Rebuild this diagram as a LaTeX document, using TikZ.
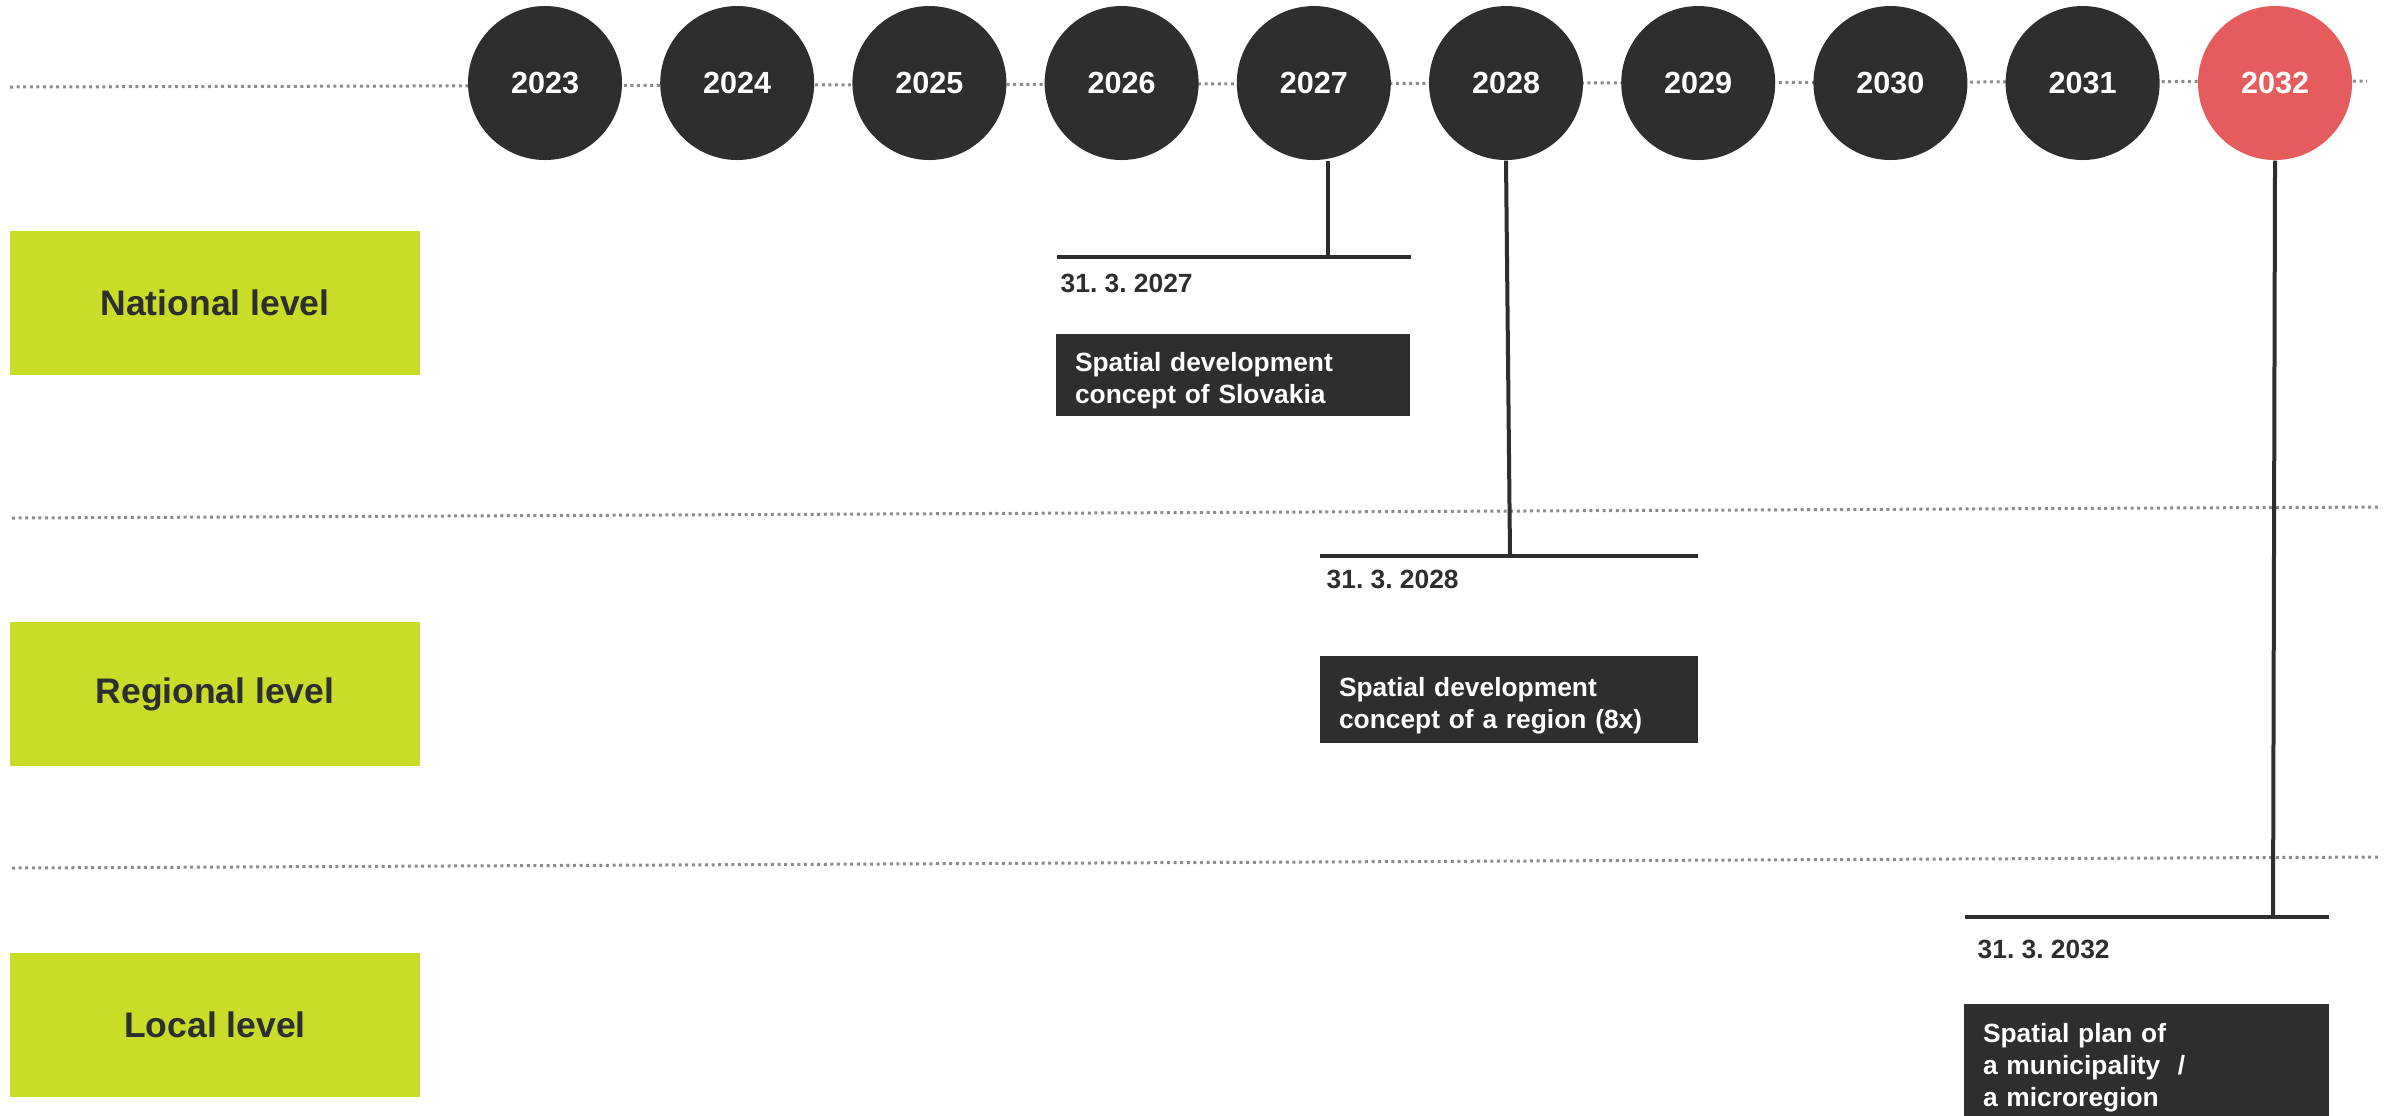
\documentclass[tikz,border=0pt]{standalone}
\usepackage{fontspec}
\setmainfont{Liberation Sans}
\usepackage{tikz}
\usetikzlibrary{positioning}
\definecolor{ink}{HTML}{2E2E2E}
\definecolor{lime}{HTML}{C8DC28}
\definecolor{coral}{HTML}{E55C5C}
\definecolor{dotgray}{HTML}{8C8C8C}
\frenchspacing

\begin{document}
\begin{tikzpicture}  [
        x = 0.1mm, y = -0.1mm,
        yearball/.style = {circle, fill=ink, text=white, minimum size=15.4mm, inner sep=0pt,
                           font=\bfseries\fontsize{8.7}{10}\selectfont},
        tier/.style     = {fill=lime, text=ink, minimum width=41mm, minimum height=14.4mm, outer sep=0pt,
                           font=\bfseries\fontsize{10.1}{12}\selectfont},
        deadline/.style = {anchor=base west, inner sep=0pt, text=ink,
                           font=\bfseries\fontsize{7.5}{9}\selectfont},
        plan/.style     = {fill=ink, text=white, anchor=north west, align=left, inner xsep=1.9mm,
                           inner ysep=0pt, outer sep=0pt, font=\bfseries\fontsize{7.5}{9.1}\selectfont},
        divider/.style  = {dotgray, line width=0.3mm, dash pattern=on 0.3mm off 0.36mm},
        stem/.style     = {ink, line width=0.4mm}
    ]
    \useasboundingbox (0,0) rectangle (2392,1115);

    % dotted lines
    \draw[divider] (10,87) -- (2367,81);
    \draw[divider] (12,518) -- (2381,507);
    \draw[divider] (12,868) -- (2381,857);

    % years
    \foreach \yr in {2023,...,2031}
        \node[yearball] (y\yr) at ({545+192.2*(\yr-2023)},83) {\yr};
    \node[yearball, fill=coral] (y2032) at (2275,83) {2032};

    % levels
    \node[tier, anchor=north west]     (national) at (10,231) {National level};
    \node[tier, below = 24.7mm of national] (regional) {Regional level};
    \node[tier, below = 18.7mm of regional] (local)    {Local level};

    % deadlines
    \coordinate (bar27a) at (1057,257);
    \coordinate (bar27b) at (1411,257);
    \coordinate (tick27) at (1328,257);
    \coordinate (bar28a) at (1320,556);
    \coordinate (bar28b) at (1698,556);
    \coordinate (tick28) at (1510,556);
    \coordinate (bar32a) at (1965,917);
    \coordinate (bar32b) at (2329,917);
    \coordinate (tick32) at (2273,917);

    \draw[stem] (tick27 |- y2027.south) -- (tick27);
    \draw[stem] (y2028.south) -- (tick28);
    \draw[stem] (y2032.south) -- (tick32);
    \draw[stem] (bar27a) -- (bar27b);
    \draw[stem] (bar28a) -- (bar28b);
    \draw[stem] (bar32a) -- (bar32b);

    \node[deadline] (d27) at (1060,292) {31. 3. 2027};
    \node[deadline] (d28) at (1326,588) {31. 3. 2028};
    \node[deadline] (d32) at (1977,958) {31. 3. 2032};

    \node[plan, text width=31.6mm, minimum height=8.2mm]  (p27) at (1056,334)
        {\rule{0pt}{3.1mm}Spatial development\\concept of Slovakia};
    \node[plan, text width=34.0mm, minimum height=8.7mm]  (p28) at (1320,656)
        {\rule{0pt}{3.1mm}Spatial development\\concept of a region (8x)};
    \node[plan, text width=32.7mm, minimum height=11.6mm] (p32) at (1964,1004)
        {\rule{0pt}{3.1mm}Spatial plan of\\a municipality\ \ /\\a microregion};

\end{tikzpicture}
\end{document}
